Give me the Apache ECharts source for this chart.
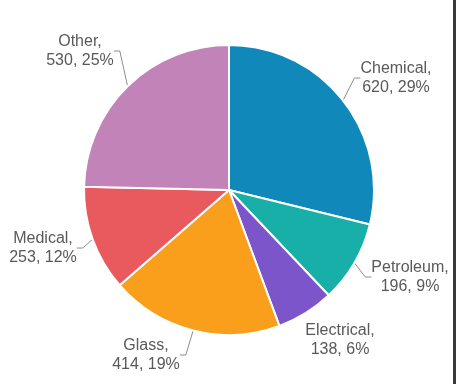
<!DOCTYPE html>
<html><head><meta charset="utf-8">
<script src="https://cdn.jsdelivr.net/npm/echarts@6/dist/echarts.min.js"></script>
<style>html,body{margin:0;padding:0;background:#fff}#c{width:456px;height:384px}</style>
</head><body><div id="c"></div>
<script>
const categories = ['Chemical', 'Petroleum', 'Electrical', 'Glass', 'Medical', 'Other'];
const values = [620, 196, 138, 414, 253, 530];
const percents = [29, 9, 6, 19, 12, 25];
const colors = ['#1089BA', '#17AFA8', '#7B55C9', '#F99F1C', '#E85A5E', '#C283B8'];
const showLine = [true, true, false, true, true, true];
// label block centres (layout styling)
const labelPos = [[396, 78], [410, 277], [340, 340], [146, 355], [43, 248], [80, 51]];

const chart = echarts.init(document.getElementById('c'));
chart.setOption({
  animation: false,
  graphic: [{type: 'rect', shape: {x: 453, y: 0, width: 3, height: 384}, style: {fill: '#3a3a3a'}}],
  series: [{
    type: 'pie',
    center: [229, 190],
    radius: [0, 145],
    startAngle: 90,
    clockwise: true,
    data: categories.map((c, i) => ({name: c, value: values[i], itemStyle: {color: colors[i]}, labelLine: {show: showLine[i]}})),
    itemStyle: {borderColor: '#fff', borderWidth: 2},
    label: {
      show: true,
      position: 'outside',
      overflow: 'none',
      formatter: p => p.name + ',\n' + values[p.dataIndex] + ', ' + percents[p.dataIndex] + '%',
      color: '#595959',
      fontSize: 16,
      lineHeight: 19,
      fontFamily: 'Liberation Sans, Arial, sans-serif',
      align: 'center'
    },
    labelLine: {show: true, length: 8, length2: 6, lineStyle: {color: '#8c8c8c', width: 1}},
    labelLayout: p => ({x: labelPos[p.dataIndex][0], y: labelPos[p.dataIndex][1], align: 'center', verticalAlign: 'middle'})
  }]
});
</script></body></html>
